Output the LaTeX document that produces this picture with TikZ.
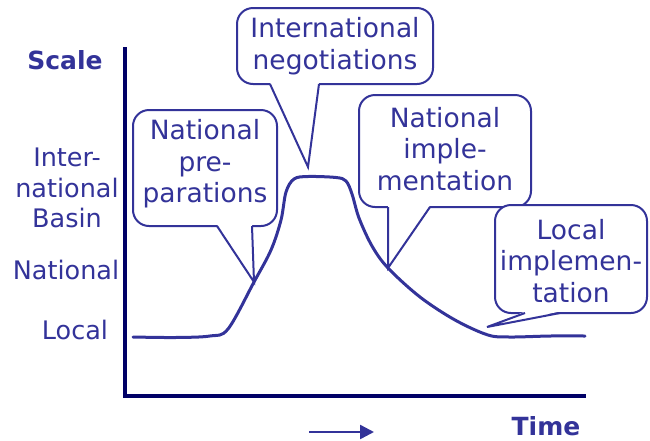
\documentclass[tikz,border=0pt]{standalone}
\usepackage{fontspec}
\setmainfont{DejaVu Sans}
\usetikzlibrary{arrows.meta}
\definecolor{ink}{RGB}{51,51,153}
\definecolor{axisc}{RGB}{0,0,102}
\begin{document}
\begin{tikzpicture}[x=1pt,y=-1pt,
  lbl/.style={text=ink,font=\fontsize{26.5}{31.5}\selectfont,align=center,inner sep=0pt},
  axlbl/.style={text=ink,font=\fontsize{25.5}{30.5}\selectfont,align=center,inner sep=0pt},
  boldlbl/.style={text=ink,font=\fontsize{25}{31}\selectfont\bfseries,inner sep=0pt},
  bubble/.style={draw=ink,line width=2pt,fill=white,rounded corners=16pt},
  wedge/.style={draw=ink,line width=2pt,line join=miter},
  axisline/.style={draw=axisc,line width=4pt},
  curveline/.style={draw=ink,line width=3pt,line cap=round}]
\useasboundingbox (0,0) rectangle (650,440);

% axes
\coordinate (ytop) at (125,47);
\coordinate (orig) at (125,396);
\coordinate (xend) at (586,396);
\draw[axisline] (ytop) -- (orig) -- (xend);

% axis labels
\node[boldlbl] (scale) at (65,60) {Scale};
\node[boldlbl] (time) at (546,426) {Time};
\coordinate (arrA) at (309,432);
\coordinate (arrB) at (374,432);
\draw[ink,line width=2.5pt,-{Triangle[length=14pt,width=14pt]}] (arrA) -- (arrB);

\node[axlbl] (lint) at (67,188) {Inter-\\national\\Basin};
\node[axlbl] (lnat) at (66,270) {National};
\node[axlbl] (lloc) at (75,330) {Local};

% callout 1
\draw[bubble] (133,110) rectangle (277,226);
\coordinate (t1) at (254,282);
\fill[white] (217,224.5) -- (252,224.5) -- (t1) -- cycle;
\draw[wedge] (217,226) -- (t1) -- (252,226);
\node[lbl] (c1) at (205,164) {National\\pre-\\parations};

% callout 2
\draw[bubble] (237,8) rectangle (433,84);
\coordinate (t2) at (308,167);
\fill[white] (270,82.5) -- (319,82.5) -- (t2) -- cycle;
\draw[wedge] (270,84) -- (t2) -- (319,84);
\node[lbl] (c2) at (335,46) {International\\negotiations};

% callout 3
\draw[bubble] (359,95) rectangle (531,207);
\coordinate (t3) at (388,268);
\fill[white] (388,205.5) -- (430,205.5) -- (t3) -- cycle;
\draw[wedge] (388,207) -- (t3) -- (430,207);
\node[lbl] (c3) at (445,149) {National\\imple-\\mentation};

% callout 4
\draw[bubble] (495,205) rectangle (647,313);
\coordinate (t4) at (487,327);
\fill[white] (525,311.5) -- (560,311.5) -- (t4) -- cycle;
\draw[wedge] (525,313) -- (t4) -- (560,313);
\node[lbl] (c4) at (571,261) {Local\\implemen-\\tation};

% curve
\draw[curveline] plot[smooth,tension=0.55] coordinates {
 (133,337) (175,337.5) (210,336) (228,329) (254,282) (271,250) (281,220)
 (286,192) (294,179) (308,176.5) (336,177.5) (346,181) (352,194) (359,218)
 (372,246) (388,268) (420,297) (455,320) (488,335) (510,337) (550,336) (585,336)};
\end{tikzpicture}
\end{document}
